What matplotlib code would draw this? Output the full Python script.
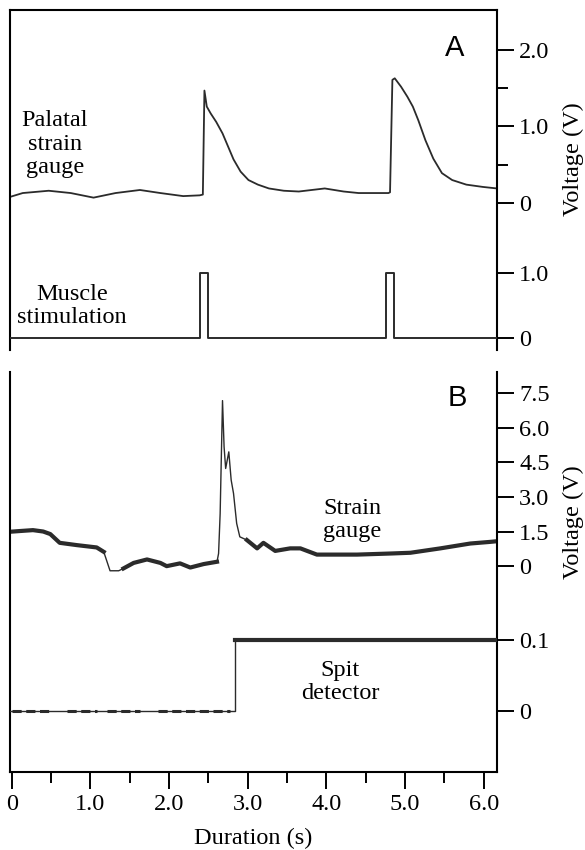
import numpy as np
import matplotlib
matplotlib.use('Agg')
import matplotlib.pyplot as plt

plt.rcParams['font.family'] = ['Liberation Serif', 'DejaVu Serif']

# ---- data ----
# panel A: palatal strain gauge (V)
a_strain_t = [-0.02, 0.14, 0.47, 0.75, 1.04, 1.32, 1.63, 1.89, 2.18, 2.39, 2.43,
              2.45, 2.48, 2.53, 2.60, 2.68, 2.75, 2.82, 2.91, 3.01, 3.13, 3.27,
              3.46, 3.65, 3.98, 4.22, 4.41, 4.79, 4.81,
              4.84, 4.87, 4.95, 5.03, 5.10, 5.17, 5.26, 5.36, 5.47, 5.60, 5.78,
              5.99, 6.17]
a_strain_v = [0.08, 0.13, 0.16, 0.13, 0.07, 0.13, 0.17, 0.13, 0.09, 0.10, 0.11,
              1.47, 1.26, 1.17, 1.06, 0.91, 0.74, 0.57, 0.41, 0.30, 0.24, 0.19,
              0.16, 0.15, 0.19, 0.15, 0.13, 0.13, 0.14,
              1.61, 1.63, 1.52, 1.39, 1.26, 1.08, 0.82, 0.58, 0.39, 0.30, 0.24,
              0.21, 0.19]

# panel A: muscle stimulation pulses (V)
stim_t = [-0.02, 2.40, 2.49, 4.76, 4.86, 6.17]
stim_v = [0, 1.0, 0, 1.0, 0, 0]

# panel B: strain gauge (V)
b_strain_t = [-0.02, 0.10, 0.27, 0.40, 0.49, 0.61, 0.83, 1.08, 1.17, 1.25, 1.36,
              1.42, 1.55, 1.72, 1.89, 1.97, 2.14, 2.27, 2.44, 2.61, 2.63, 2.65,
              2.68, 2.70, 2.72, 2.76, 2.79, 2.82, 2.86, 2.90, 2.99, 3.12, 3.20,
              3.35, 3.54, 3.67, 3.88, 4.39, 4.84, 5.07, 5.45, 5.83, 6.08, 6.17]
b_strain_v = [1.49, 1.52, 1.56, 1.50, 1.39, 1.01, 0.91, 0.81, 0.62, -0.20, -0.20,
              -0.10, 0.14, 0.29, 0.14, 0.00, 0.12, -0.06, 0.09, 0.19, 0.55, 2.28,
              7.17, 5.17, 4.23, 4.95, 3.73, 3.15, 1.85, 1.27, 1.13, 0.77, 1.01,
              0.66, 0.77, 0.77, 0.50, 0.50, 0.55, 0.58, 0.77, 0.98, 1.05, 1.08]

# panel B: spit detector (V)
spit_t = [-0.02, 2.84, 2.84, 6.17]
spit_v = [0, 0, 0.1, 0.1]
spit_noise = [(0.00, 0.49), (0.70, 1.08), (1.21, 1.63), (1.86, 2.78)]

W, H = 585, 850
FS = 17.5


def rect(l, t, r, b):   # pixel box -> figure coords
    return [l / W, 1 - b / H, (r - l) / W, (b - t) / H]


def style_right(ax, ticks, labels, minor=None):
    ax.yaxis.set_ticks_position('right')
    ax.set_yticks(ticks)
    ax.set_yticklabels(labels)
    if minor is not None:
        ax.set_yticks(minor, minor=True)
    ax.tick_params(axis='y', which='major', direction='out', length=12,
                   width=1.4, pad=4, labelsize=FS)
    ax.tick_params(axis='y', which='minor', direction='out', length=8,
                   width=1.4)
    ax.tick_params(axis='x', which='both', bottom=False, labelbottom=False)


xlim = (-0.022, 6.17)
trace = '#2b2b2b'

fig = plt.figure(figsize=(5.85, 8.5), dpi=100)

# ---------------- panel A ----------------
axA = fig.add_axes(rect(10, 10, 497, 350))
axA2 = fig.add_axes(rect(10, 10, 497, 350), sharex=axA)
axA2.patch.set_visible(False)
axA.set_xlim(*xlim)
axA.set_ylim(-1.922, 2.523)
axA2.set_ylim(-0.185, 5.046)

axA.plot(a_strain_t, a_strain_v, color=trace, lw=1.3)
axA2.plot(stim_t, stim_v, drawstyle='steps-post', color=trace, lw=1.4)

for s in axA.spines.values():
    s.set_linewidth(1.5)
axA.spines['bottom'].set_visible(False)
for s in axA2.spines.values():
    s.set_visible(False)
style_right(axA, [0, 1, 2], ['0', '1.0', '2.0'], minor=[0.5, 1.5])
style_right(axA2, [0, 1], ['0', '1.0'])

# ---------------- panel B ----------------
axB = fig.add_axes(rect(10, 372, 497, 772))
axB2 = fig.add_axes(rect(10, 372, 497, 772), sharex=axB)
axB2.patch.set_visible(False)
axB.set_xlim(*xlim)
axB.set_ylim(-8.916, 8.409)
axB2.set_ylim(-0.0855, 0.4775)

bt = np.array(b_strain_t)
bv = np.array(b_strain_v)
axB.plot(bt, bv, color=trace, lw=1.0)
fast = ((bt > 1.2) & (bt < 1.4)) | ((bt > 2.62) & (bt < 2.95))
axB.plot(bt, np.where(fast, np.nan, bv), color=trace, lw=3.0)

axB2.plot(spit_t, spit_v, color=trace, lw=1.0)
axB2.plot(spit_t[2:], spit_v[2:], color=trace, lw=3.0)
for a, b in spit_noise:
    axB2.plot([a, b], [0, 0], color=trace, lw=2.2, ls=(0, (3, 1.5)))

for s in axB.spines.values():
    s.set_linewidth(1.5)
axB.spines['top'].set_visible(False)
for s in axB2.spines.values():
    s.set_visible(False)
style_right(axB, [0, 1.5, 3.0, 4.5, 6.0, 7.5],
            ['0', '1.5', '3.0', '4.5', '6.0', '7.5'])
style_right(axB2, [0, 0.1], ['0', '0.1'])

axB.tick_params(axis='x', which='both', bottom=True, labelbottom=True,
                direction='out', width=1.4, labelsize=FS, pad=4)
axB.tick_params(axis='x', which='major', length=12)
axB.tick_params(axis='x', which='minor', length=8)
axB.set_xticks([0, 1, 2, 3, 4, 5, 6])
axB.set_xticklabels(['0', '1.0', '2.0', '3.0', '4.0', '5.0', '6.0'])
axB.set_xticks([0.5, 1.5, 2.5, 3.5, 4.5, 5.5], minor=True)

# ---------------- text ----------------
def ftext(x, y, s, **kw):
    fig.text(x / W, 1 - y / H, s, ha='center', va='center', **kw)


ftext(55, 144, 'Palatal\nstrain\ngauge', fontsize=FS, linespacing=1.17)
ftext(72, 306, 'Muscle\nstimulation', fontsize=FS, linespacing=1.17)
ftext(352, 520, 'Strain\ngauge', fontsize=FS, linespacing=1.17)
ftext(340, 682, 'Spit\ndetector', fontsize=FS, linespacing=1.17)
ftext(455, 48, 'A', fontsize=21, family=['Liberation Sans', 'DejaVu Sans'])
ftext(457, 398, 'B', fontsize=21, family=['Liberation Sans', 'DejaVu Sans'])
ftext(573, 159, 'Voltage (V)', fontsize=FS, rotation=90)
ftext(573, 522, 'Voltage (V)', fontsize=FS, rotation=90)
ftext(253, 838, 'Duration (s)', fontsize=FS)

fig.savefig('out.png', dpi=100)
